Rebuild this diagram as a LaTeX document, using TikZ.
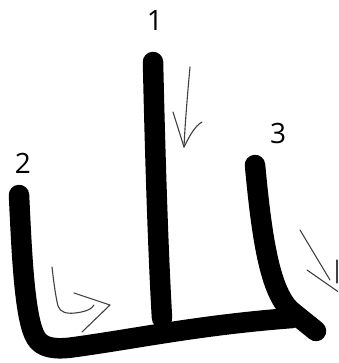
\documentclass[tikz,border=0pt]{standalone}
\usepackage{fontspec}
\setmainfont{Open Sans}
\begin{document}
\begin{tikzpicture}[x=1pt,y=-1pt,
  stroke/.style={line width=20.5pt,line cap=round,line join=round,black},
  thin/.style={line width=1.1pt,line cap=round,line join=round,black!75},
  lbl/.style={font=\fontsize{28}{28}\selectfont,inner sep=0pt}]
\useasboundingbox (0,0) rectangle (338,363);
\clip (0,0) rectangle (338,363);
% stroke 1
\draw[stroke] (153,62) .. controls (155,150) and (158,250) .. (162,318);
% stroke 2 with base
\draw[stroke] (19,195) .. controls (22,260) and (25,320) .. (36,338)
  .. controls (42,348) and (55,350) .. (75,347)
  .. controls (140,338) and (200,325) .. (292,318);
% stroke 3
\draw[stroke] (255,165) .. controls (262,240) and (270,290) .. (290,310)
  -- (316,331);
% arrow 1
\draw[thin] (190,67) .. controls (187,100) and (185,125) .. (184,147);
\draw[thin] (173,112) -- (184,147) .. controls (190,135) and (195,126) .. (202,122);
% arrow 2
\draw[thin] (52,267) .. controls (54,285) and (56,298) .. (58,306)
  .. controls (60,312) and (66,314) .. (75,313)
  .. controls (85,312) and (92,309) .. (94,305);
\draw[thin] (74,293) -- (110,305) -- (82,332);
% arrow 3
\draw[thin] (300,230) -- (330,280);
\draw[thin] (307,270) -- (340,293);
\draw[thin] (337,260) -- (337,283);
% labels
\node[lbl] (l1) at (155,21) {1};
\node[lbl] (l2) at (23,163) {2};
\node[lbl] (l3) at (278,133) {3};
\end{tikzpicture}
\end{document}
